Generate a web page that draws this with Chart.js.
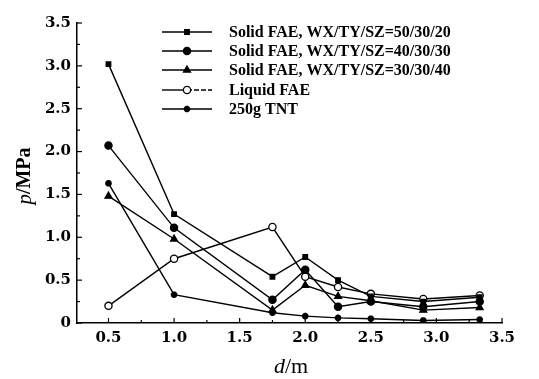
<!DOCTYPE html>
<html>
<head>
<meta charset="utf-8">
<script src="https://cdn.jsdelivr.net/npm/chart.js@4.4.0/dist/chart.umd.min.js"></script>
<style>
  body { margin: 0; background: #fff; }
  #wrap { width: 539px; height: 379px; }
</style>
</head>
<body>
<div id="wrap"><canvas id="myChart" width="539" height="379"></canvas></div>
<script>
// etäisyydet (m) ja paineet (MPa) luettu kuvasta
var distances = [0.5, 1.0, 1.75, 2.0, 2.25, 2.5, 2.9, 3.33]
var solid50 = [3.02, 1.27, 0.54, 0.77, 0.50, 0.31, 0.25, 0.30]
var solid40 = [2.07, 1.11, 0.27, 0.62, 0.19, 0.25, 0.19, 0.25]
var solid30 = [1.48, 0.98, 0.15, 0.44, 0.31, 0.26, 0.15, 0.18]
var liquidFae = [0.20, 0.75, 1.12, 0.54, 0.42, 0.34, 0.28, 0.32]
var tnt = [1.63, 0.33, 0.12, 0.08, 0.06, 0.05, 0.03, 0.04]

var seriesNames = ['Solid FAE, WX/TY/SZ=50/30/20', 'Solid FAE, WX/TY/SZ=40/30/30',
  'Solid FAE, WX/TY/SZ=30/30/40', 'Liquid FAE', '250g TNT']
var xTicks = [0.5, 1.0, 1.5, 2.0, 2.5, 3.0, 3.5]
var xTickLabels = ['0.5', '1.0', '1.5', '2.0', '2.5', '3.0', '3.5']
var yTicks = [0, 0.5, 1.0, 1.5, 2.0, 2.5, 3.0, 3.5]
var yTickLabels = ['0', '0.5', '1.0', '1.5', '2.0', '2.5', '3.0', '3.5']

function pts(vals) {
  return vals.map(function (v, i) { return { x: distances[i], y: v } })
}

function makeSet(i, vals, style, radius, fill, bw) {
  return {
    label: seriesNames[i],
    data: pts(vals),
    borderColor: '#000',
    borderWidth: 1.4,
    pointStyle: style,
    pointRadius: radius,
    pointBorderWidth: bw || 1.3,
    pointBackgroundColor: fill,
    pointBorderColor: '#000',
    tension: 0,
    fill: false
  }
}

var datasets = [
  makeSet(0, solid50, 'rect', 3.2, '#000'),
  makeSet(1, solid40, 'circle', 3.6, '#000'),
  makeSet(2, solid30, 'triangle', 4, '#000'),
  makeSet(3, liquidFae, 'circle', 3.6, '#fff'),
  makeSet(4, tnt, 'star', 3.3, '#000', 2.2)
]

// sisäänpäin osoittavat tikit, akselien otsikot ja selite
var extras = {
  id: 'extras',
  afterDraw: function (chart) {
    var ctx = chart.ctx
    var xs = chart.scales.x
    var ys = chart.scales.y
    var area = chart.chartArea
    ctx.save()
    ctx.strokeStyle = '#000'
    ctx.lineWidth = 1.2
    for (var v = 0; v <= 3.5001; v += 0.25) {
      var py = ys.getPixelForValue(v)
      var len = (Math.round(v * 4) % 2 === 0) ? 5 : 3
      ctx.beginPath(); ctx.moveTo(area.left, py); ctx.lineTo(area.left + len, py); ctx.stroke()
    }
    for (var u = 0.5; u <= 3.5001; u += 0.25) {
      var px = xs.getPixelForValue(u)
      var l2 = (Math.round(u * 4) % 2 === 0) ? 5 : 3
      ctx.beginPath(); ctx.moveTo(px, area.bottom); ctx.lineTo(px, area.bottom - l2); ctx.stroke()
    }

    // akselien otsikot
    ctx.fillStyle = '#000'
    ctx.textBaseline = 'middle'
    ctx.font = 'italic 22px "Liberation Serif"'
    var w1 = ctx.measureText('d').width
    ctx.font = '22px "Liberation Serif"'
    var w2 = ctx.measureText('/m').width
    var cx = 291 - (w1 + w2) / 2
    ctx.textAlign = 'left'
    ctx.font = 'italic 22px "Liberation Serif"'
    ctx.fillText('d', cx, 367)
    ctx.font = '22px "Liberation Serif"'
    ctx.fillText('/m', cx + w1, 367)

    ctx.save()
    ctx.translate(25, 176)
    ctx.rotate(-Math.PI / 2)
    ctx.font = 'italic 21px "Liberation Serif"'
    var p1 = ctx.measureText('p').width
    ctx.font = 'bold 20px "Liberation Serif"'
    var p2 = ctx.measureText('/MPa').width
    var sx = -(p1 + p2) / 2
    ctx.font = 'italic 21px "Liberation Serif"'
    ctx.fillText('p', sx, 0)
    ctx.font = 'bold 20px "Liberation Serif"'
    ctx.fillText('/MPa', sx + p1, 0)
    ctx.restore()

    // selite
    var rows = [32, 51, 70, 90, 109]
    chart.data.datasets.forEach(function (ds, i) {
      var y = rows[i]
      ctx.lineWidth = 1.4
      ctx.strokeStyle = '#000'
      ctx.setLineDash([])
      if (i === 3) {
        ctx.beginPath(); ctx.moveTo(162, y); ctx.lineTo(187, y); ctx.stroke()
        ctx.setLineDash([5, 2])
        ctx.beginPath(); ctx.moveTo(187, y); ctx.lineTo(212, y); ctx.stroke()
        ctx.setLineDash([])
      } else {
        ctx.beginPath(); ctx.moveTo(162, y); ctx.lineTo(212, y); ctx.stroke()
      }
      ctx.fillStyle = ds.pointBackgroundColor
      ctx.lineWidth = ds.pointBorderWidth
      Chart.helpers.drawPoint(ctx, {
        pointStyle: ds.pointStyle, radius: ds.pointRadius,
        borderWidth: ds.pointBorderWidth, rotation: 0
      }, 187, y)
      ctx.fillStyle = '#000'
      ctx.font = 'bold 16px "Liberation Serif"'
      ctx.textAlign = 'left'
      ctx.fillText(ds.label, 229, y + 1)
    })
    ctx.restore()
  }
}

new Chart(document.getElementById('myChart'), {
  type: 'scatter',
  data: { datasets: datasets.map(function (d) { d.showLine = true; return d }) },
  options: {
    responsive: false,
    animation: false,
    layout: { padding: { top: 23, right: 37, left: 0, bottom: 0 } },
    plugins: { legend: { display: false }, tooltip: { enabled: false } },
    scales: {
      x: {
        type: 'linear',
        min: 0.26,
        max: 3.5,
        afterBuildTicks: function (s) { s.ticks = xTicks.map(function (v) { return { value: v } }) },
        afterFit: function (s) { s.height = 56 },
        grid: { display: false, drawTicks: false },
        border: { display: true, color: '#000', width: 1.5 },
        ticks: {
          padding: 6,
          color: '#000',
          font: { family: 'DejaVu Serif', weight: 'bold', size: 15 },
          callback: function (v) { var k = xTicks.indexOf(v); return k >= 0 ? xTickLabels[k] : '' }
        }
      },
      y: {
        min: 0,
        max: 3.5,
        afterBuildTicks: function (s) { s.ticks = yTicks.map(function (v) { return { value: v } }) },
        afterFit: function (s) { s.width = 77 },
        grid: { display: false, drawTicks: false },
        border: { display: true, color: '#000', width: 1.5 },
        ticks: {
          padding: 6,
          color: '#000',
          font: { family: 'DejaVu Serif', weight: 'bold', size: 15 },
          callback: function (v) { var k = yTicks.indexOf(v); return k >= 0 ? yTickLabels[k] : '' }
        }
      }
    }
  },
  plugins: [extras]
})
</script>
</body>
</html>
